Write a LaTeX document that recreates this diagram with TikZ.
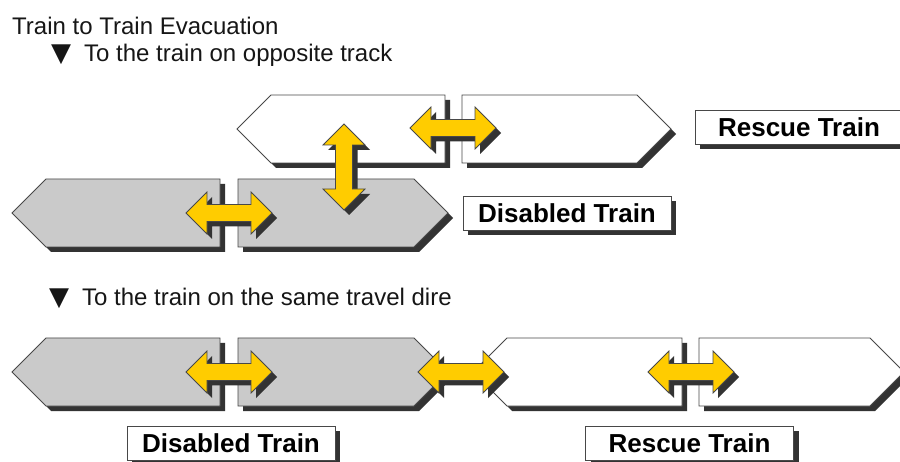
\documentclass[tikz,border=0pt]{standalone}
\usepackage{fontspec}
\setmainfont{Liberation Sans}
\newfontfamily\symfont{DejaVu Sans}
\usetikzlibrary{shadows}

\definecolor{shadowgray}{HTML}{333333}
\definecolor{edgegray}{HTML}{484848}
\definecolor{disabledfill}{HTML}{CACACA}
\definecolor{arrowyellow}{HTML}{FFCC00}
\definecolor{textgray}{HTML}{161616}

% car with pointed left end: tip x, flat right x, top y
\newcommand\carleftpath[3]{(#1,{#3+34}) -- ({#1+34},#3) -- (#2,#3) -- (#2,{#3+68}) -- ({#1+34},{#3+68}) -- cycle}
% car with pointed right end: flat left x, tip x, top y
\newcommand\carrightpath[3]{(#1,#3) -- ({#2-34},#3) -- (#2,{#3+34}) -- ({#2-34},{#3+68}) -- (#1,{#3+68}) -- cycle}
% double-headed arrow around the origin, horizontal
\newcommand\dblarrowpath{(-43,0) -- (-22,-21) -- (-22,-8.5) -- (22,-8.5) -- (22,-21) -- (43,0) -- (22,21) -- (22,8.5) -- (-22,8.5) -- (-22,21) -- cycle}
% bullet triangle in front of a sub-heading
\newcommand\bullettri{{\symfont\fontsize{26}{26}\selectfont ▼}}

\tikzset{
  x=1pt, y=-1pt,
  hardshadow/.style={general shadow={fill=shadowgray, shadow xshift=5pt, shadow yshift=-5pt}},
  rescuecar/.style={fill=white, draw=edgegray, line width=0.9pt, line join=miter, hardshadow},
  disabledcar/.style={fill=disabledfill, draw=edgegray, line width=0.9pt, line join=miter, hardshadow},
  movearrow/.style={fill=arrowyellow, draw=edgegray, line width=0.8pt, hardshadow},
  tagbox/.style={draw=edgegray, fill=white, line width=1pt, hardshadow,
    minimum width=208pt, minimum height=34pt, inner sep=0pt,
    text height=18.5pt, text depth=0pt,
    font=\bfseries\fontsize{26}{26}\selectfont, text=black},
  heading/.style={font=\fontsize{24}{24}\selectfont, text=textgray, inner sep=0pt},
}

\begin{document}
\begin{tikzpicture}
\clip (0,0) rectangle (900,462);
\fill[white] (0,0) rectangle (900,462);

% headings
\node[heading, anchor=base west] (title) at (12,35) {Train to Train Evacuation};
\node[heading, anchor=base west] (opposite) at (51,61.5) {\bullettri\hspace{13pt}To the train on opposite track};
\node[heading, anchor=base west] (same) at (49,306) {\bullettri\hspace{13pt}To the train on the same travel dire};

% opposite track: rescue train (upper) and disabled train (lower)
\filldraw[rescuecar] \carleftpath{237}{445}{95};
\filldraw[rescuecar] \carrightpath{462}{671}{95};
\filldraw[disabledcar] \carleftpath{12}{220}{179};
\filldraw[disabledcar] \carrightpath{238}{448}{179};

\filldraw[movearrow, shift={(453,128)}] \dblarrowpath;
\filldraw[movearrow, shift={(229,213)}] \dblarrowpath;
\filldraw[movearrow, shift={(344,167)}, rotate=90] \dblarrowpath;

\node[tagbox] (rescueA) at (799,127.5) {Rescue Train};
\node[tagbox] (disabledA) at (567,213.5) {Disabled Train};

% same travel direction: disabled train followed by rescue train
\filldraw[disabledcar] \carleftpath{12}{220}{338};
\filldraw[disabledcar] \carrightpath{238}{448}{338};
\filldraw[rescuecar] \carleftpath{473}{682}{338};
\filldraw[rescuecar] \carrightpath{699}{904}{338};

\filldraw[movearrow, shift={(229,372)}] \dblarrowpath;
\filldraw[movearrow, shift={(461,372)}] \dblarrowpath;
\filldraw[movearrow, shift={(691,372)}] \dblarrowpath;

\node[tagbox] (disabledB) at (231,443) {Disabled Train};
\node[tagbox] (rescueB) at (689.5,443) {Rescue Train};
\end{tikzpicture}
\end{document}
